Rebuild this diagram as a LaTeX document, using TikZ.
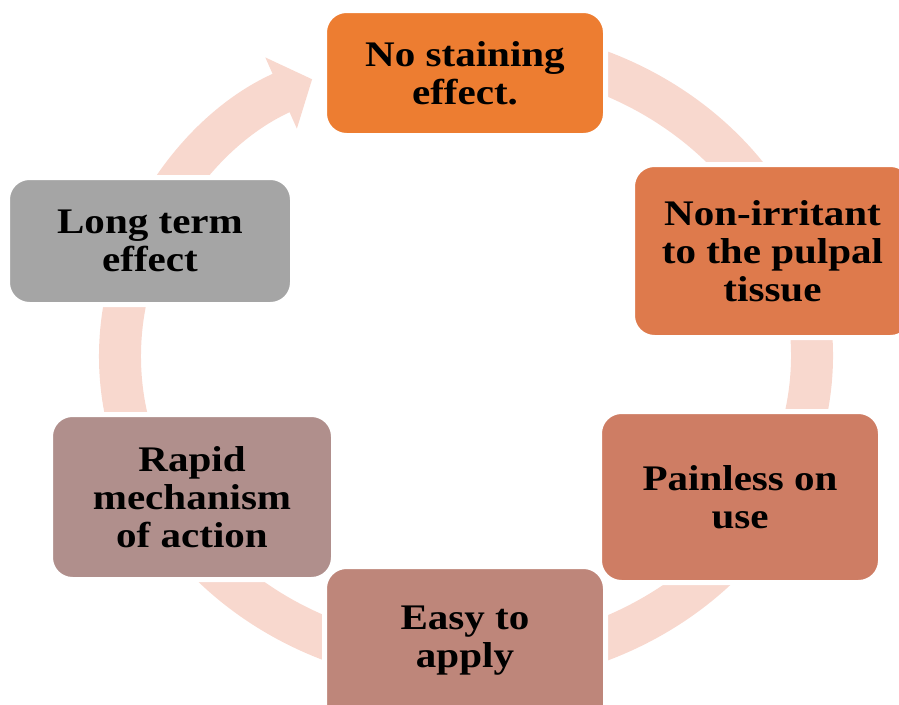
\documentclass[tikz,border=0pt]{standalone}
\usepackage{fontspec}
\setmainfont{Liberation Serif}[FakeStretch=1.14]
\usetikzlibrary{arrows.meta}

\definecolor{ringpink}{HTML}{F8D8CE}
\definecolor{boxA}{HTML}{ED7D31}
\definecolor{boxB}{HTML}{DE7A4C}
\definecolor{boxC}{HTML}{CE7D64}
\definecolor{boxD}{HTML}{BE867A}
\definecolor{boxE}{HTML}{B08F8C}
\definecolor{boxF}{HTML}{A5A5A5}

\begin{document}
\begin{tikzpicture}[x=1pt,y=-1pt,
    cyclebox/.style={draw=white, line width=5pt, rounded corners=22pt,
      inner sep=0pt, outer sep=0pt, align=center, text=black,
      font=\bfseries\fontsize{36}{38}\selectfont},
    boxtext/.style={inner sep=0pt, align=center, text=black,
      font=\bfseries\fontsize{36}{38}\selectfont},
    ring/.style={ringpink, line width=42pt, -{Triangle[width=76pt,length=34pt]}}]
  \useasboundingbox (0,0) rectangle (899,704);

  \coordinate (centre) at (466,356);
  \draw [ring] (centre) ++(275:346 and 309)
    arc [start angle=275, end angle=603.6, x radius=346, y radius=309]; % big cycle arrow

  \node [cyclebox, fill=boxA, minimum width=281pt, minimum height=125pt] (nostain) at (465,73) {No staining\\effect.};
  \node [cyclebox, fill=boxB, minimum width=280pt, minimum height=173pt] (nonirr) at (772.5,251) {Non-irritant\\to the pulpal\\tissue};
  \node [cyclebox, fill=boxC, minimum width=281pt, minimum height=171pt] (painless) at (740,497) {Painless on\\use};
  \node [cyclebox, fill=boxD, minimum width=281pt, minimum height=171pt] (easy) at (465,652) {};
  \node [boxtext] (easytext) at (465,641) {Easy to\\apply}; % text sits high in the cut box
  \node [cyclebox, fill=boxE, minimum width=283pt, minimum height=165pt] (rapid) at (192,497) {Rapid\\mechanism\\of action};
  \node [cyclebox, fill=boxF, minimum width=285pt, minimum height=127pt] (longterm) at (150,241) {Long term\\effect};
\end{tikzpicture}
\end{document}
